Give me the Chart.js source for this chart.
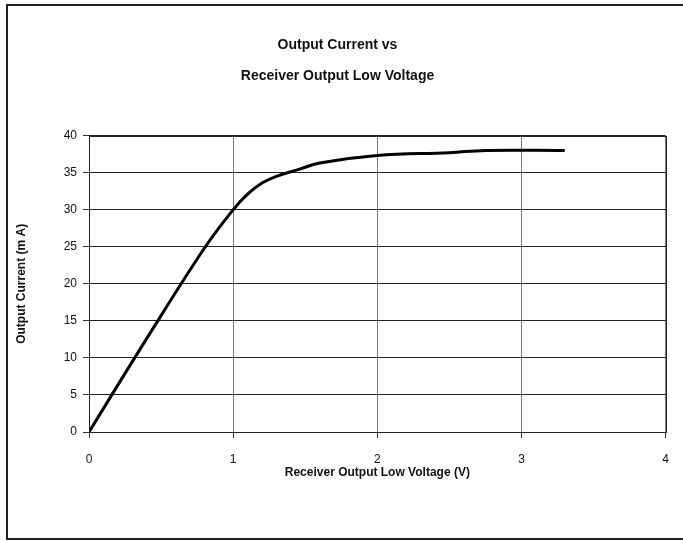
<!DOCTYPE html>
<html>
<head>
<meta charset="utf-8">
<script src="https://cdn.jsdelivr.net/npm/chart.js@4"></script>
<style>
  html, body { margin: 0; padding: 0; background: #fff; }
  #wrap { position: relative; width: 683px; height: 541px; }
</style>
</head>
<body>
<div id="wrap"><canvas id="chart" width="683" height="541"></canvas></div>
<script>
// Data
const voltage = [0, 0.4, 0.8, 1.0, 1.1, 1.2, 1.3, 1.45, 1.6, 2.0, 2.5, 2.75, 3.3];
const current = [0, 12.6, 24.8, 30, 32.1, 33.6, 34.5, 35.4, 36.3, 37.3, 37.7, 38, 38];
const titleLines = ['Output Current vs', 'Receiver Output Low Voltage'];
const xTitle = 'Receiver Output Low Voltage (V)';
const yTitle = 'Output Current (m A)';

const points = voltage.map((v, i) => ({ x: v, y: current[i] }));

// Outer frame around the whole chart
const framePlugin = {
  id: 'frame',
  afterDraw(chart) {
    const ctx = chart.ctx;
    ctx.save();
    ctx.strokeStyle = '#222';
    ctx.lineWidth = 2;
    ctx.strokeRect(7, 5, 680, 534);
    ctx.restore();
  }
};

const tickFont = { family: "'Liberation Sans Narrow', 'Liberation Sans', Arial, sans-serif", size: 12 };
const boldFont = { family: "'Liberation Sans', Arial, sans-serif", weight: 'bold', size: 12 };

new Chart(document.getElementById('chart'), {
  type: 'scatter',
  data: {
    datasets: [{
      data: points,
      showLine: true,
      borderColor: '#000',
      borderWidth: 3,
      pointRadius: 0,
      tension: 0.4,
      fill: false
    }]
  },
  options: {
    responsive: false,
    animation: false,
    layout: { padding: { left: 8, right: 16, top: 8, bottom: 8 } },
    plugins: {
      legend: { display: false },
      tooltip: { enabled: false },
      title: {
        display: true,
        text: titleLines,
        color: '#111',
        font: { family: "'Liberation Sans', Arial, sans-serif", weight: 'bold', size: 14, lineHeight: 2.2 },
        padding: { top: 22, bottom: 44 }
      }
    },
    scales: {
      x: {
        type: 'linear',
        min: 0,
        max: 4,
        ticks: { stepSize: 1, color: '#111', font: tickFont, padding: 14 },
        grid: { color: '#777', lineWidth: 1, tickLength: 6, tickColor: '#333' },
        border: { color: '#222', width: 1 },
        title: { display: true, text: xTitle, color: '#111', font: boldFont, padding: { top: 0, bottom: 53 } },
        afterFit(s) { s.height = 101; }
      },
      y: {
        min: 0,
        max: 40,
        ticks: { stepSize: 5, color: '#111', font: tickFont, padding: 6 },
        grid: { color: '#222', lineWidth: 1, tickLength: 6, tickColor: '#333' },
        border: { color: '#222', width: 1 },
        title: { display: true, text: yTitle, color: '#111', font: boldFont, padding: { top: 6, bottom: 0 } },
        afterFit(s) { s.width = 81; }
      }
    }
  },
  plugins: [framePlugin, {
    id: 'plotBorder',
    afterDatasetsDraw(chart) {
      const a = chart.chartArea, ctx = chart.ctx;
      ctx.save();
      ctx.strokeStyle = '#222';
      ctx.lineWidth = 1;
      ctx.strokeRect(Math.round(a.left) + 0.5, Math.round(a.top) + 0.5, Math.round(a.right - a.left), Math.round(a.bottom - a.top));
      ctx.restore();
    }
  }]
});
</script>
</body>
</html>
